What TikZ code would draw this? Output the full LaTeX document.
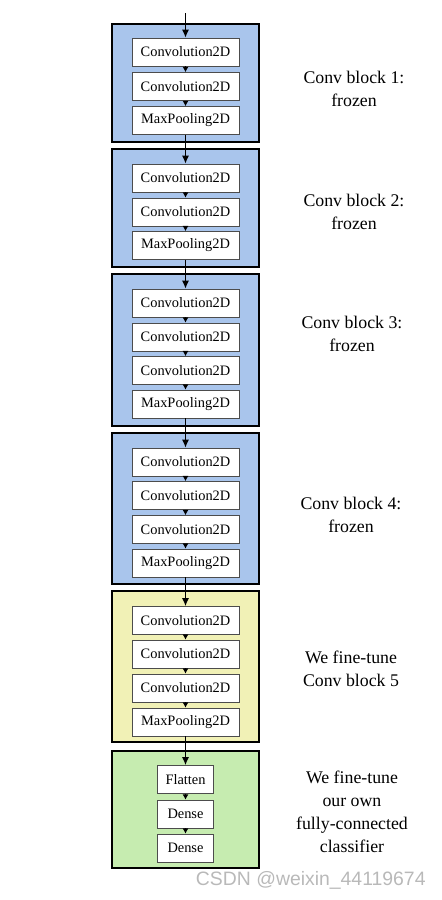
\documentclass[tikz,border=0pt]{standalone}
\usepackage{fontspec}
\setmainfont{Liberation Serif}
\setsansfont{Liberation Sans}
\usetikzlibrary{arrows.meta}
\definecolor{frozenblue}{RGB}{169,197,236}
\definecolor{tuneyellow}{RGB}{241,241,182}
\definecolor{densegreen}{RGB}{198,236,176}
\definecolor{markgray}{RGB}{185,185,185}

\begin{document}
\begin{tikzpicture}[x=0.5pt,y=-0.5pt]
    % Setup the styles for the blocks and layers
        \tikzset{block style/.style={draw=black,
                                     line width=1pt,
                                     inner sep=0pt,
                                     minimum width=73.5pt},
                 layer style/.style={draw=black!70,
                                     line width=0.4pt,
                                     fill=white,
                                     inner sep=0pt,
                                     minimum width=53.5pt,
                                     minimum height=14pt,
                                     font=\fontsize{7.2}{8}\selectfont},
                 small layer/.style={layer style, minimum width=28pt},
                 note style/.style={align=center,
                                    font=\fontsize{8.9}{11.5}\selectfont}}
        \useasboundingbox (0,0) rectangle (442,900);

        % Draw the blocks
        \node[block style, fill=frozenblue, minimum height=59pt]   at (185.5,83)    (blk1) {};
        \node[block style, fill=frozenblue, minimum height=59pt]   at (185.5,208)   (blk2) {};
        \node[block style, fill=frozenblue, minimum height=76pt]   at (185.5,350)   (blk3) {};
        \node[block style, fill=frozenblue, minimum height=75.5pt] at (185.5,508.5) (blk4) {};
        \node[block style, fill=tuneyellow, minimum height=75.5pt] at (185.5,666.5) (blk5) {};
        \node[block style, fill=densegreen, minimum height=58.5pt] at (185.5,809.5) (blk6) {};

        % Draw the layers
        \node[layer style] at (185.5,52)    (b1c1) {Convolution2D};
        \node[layer style] at (185.5,86.5)  (b1c2) {Convolution2D};
        \node[layer style] at (185.5,120.5) (b1p)  {MaxPooling2D};

        \node[layer style] at (185.5,178)   (b2c1) {Convolution2D};
        \node[layer style] at (185.5,212)   (b2c2) {Convolution2D};
        \node[layer style] at (185.5,245.5) (b2p)  {MaxPooling2D};

        \node[layer style] at (185.5,303)   (b3c1) {Convolution2D};
        \node[layer style] at (185.5,337)   (b3c2) {Convolution2D};
        \node[layer style] at (185.5,370.5) (b3c3) {Convolution2D};
        \node[layer style] at (185.5,404)   (b3p)  {MaxPooling2D};

        \node[layer style] at (185.5,462)   (b4c1) {Convolution2D};
        \node[layer style] at (185.5,495.5) (b4c2) {Convolution2D};
        \node[layer style] at (185.5,529.5) (b4c3) {Convolution2D};
        \node[layer style] at (185.5,563)   (b4p)  {MaxPooling2D};

        \node[layer style] at (185.5,620.5) (b5c1) {Convolution2D};
        \node[layer style] at (185.5,654)   (b5c2) {Convolution2D};
        \node[layer style] at (185.5,688)   (b5c3) {Convolution2D};
        \node[layer style] at (185.5,722)   (b5p)  {MaxPooling2D};

        \node[small layer] at (185.5,779.5) (flat)   {Flatten};
        \node[small layer] at (185.5,814)   (dense1) {Dense};
        \node[small layer] at (185.5,848)   (dense2) {Dense};

        \coordinate (input) at (185.5,13);

        % Connect the layers with arrows
        \draw[line width=0.65pt,
              >={Latex[length=4pt,width=3.6pt]}]
            (input) edge[->] (b1c1)
            (b1p)   edge[->] (b2c1)
            (b2p)   edge[->] (b3c1)
            (b3p)   edge[->] (b4c1)
            (b4p)   edge[->] (b5c1)
            (b5p)   edge[->] (flat);
        \draw[line width=0.5pt,
              >={Latex[length=2.6pt,width=3pt]}]
            (b1c1) edge[->] (b1c2)
            (b1c2) edge[->] (b1p)
            (b2c1) edge[->] (b2c2)
            (b2c2) edge[->] (b2p)
            (b3c1) edge[->] (b3c2)
            (b3c2) edge[->] (b3c3)
            (b3c3) edge[->] (b3p)
            (b4c1) edge[->] (b4c2)
            (b4c2) edge[->] (b4c3)
            (b4c3) edge[->] (b4p)
            (b5c1) edge[->] (b5c2)
            (b5c2) edge[->] (b5c3)
            (b5c3) edge[->] (b5p)
            (flat)   edge[->] (dense1)
            (dense1) edge[->] (dense2);

        % Notes beside the blocks
        \node[note style] at (354,88.5)  (note1) {Conv block 1:\\frozen};
        \node[note style] at (354,211.5) (note2) {Conv block 2:\\frozen};
        \node[note style] at (352,333.5) (note3) {Conv block 3:\\frozen};
        \node[note style] at (351,515)   (note4) {Conv block 4:\\frozen};
        \node[note style] at (351,668.5) (note5) {We fine-tune\\Conv block 5};
        \node[note style] at (352,812)   (note6) {We fine-tune\\our own\\fully-connected\\classifier};

        \node[font=\sffamily\fontsize{9.7}{10}\selectfont, text=markgray,
              anchor=east, inner sep=0pt] at (426,880) (mark) {CSDN @weixin\_44119674};
\end{tikzpicture}
\end{document}
